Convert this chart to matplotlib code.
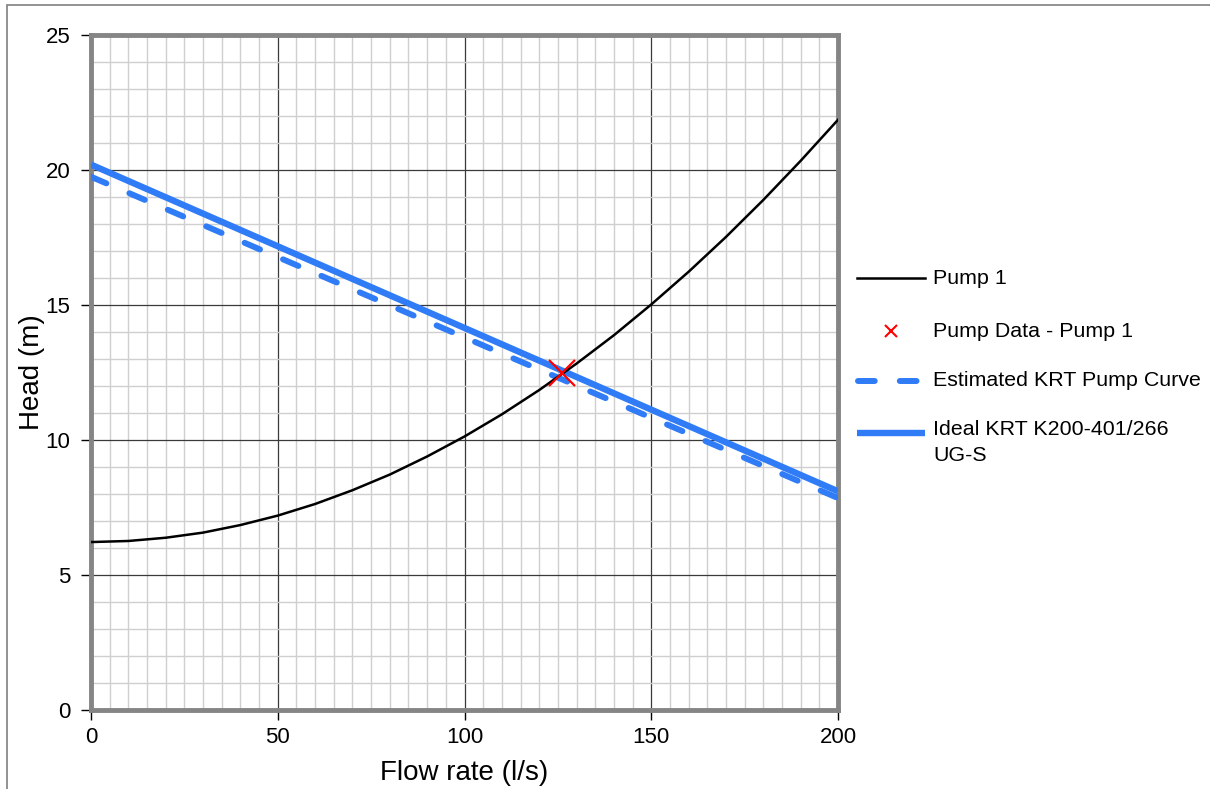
import matplotlib
matplotlib.use("Agg")
import matplotlib.pyplot as plt
from matplotlib.lines import Line2D
from matplotlib.patches import Rectangle
import numpy as np

plt.rcParams['font.family'] = ['Liberation Sans', 'DejaVu Sans']

# System curve (Pump 1)
sys_q = [0, 10, 20, 30, 40, 50, 60, 70, 80, 90, 100, 110, 120, 130, 140, 150, 160, 170, 180, 190, 200]
sys_h = [6.22, 6.26, 6.38, 6.57, 6.85, 7.20, 7.63, 8.14, 8.72, 9.39, 10.13, 10.95, 11.85, 12.83,
         13.88, 15.02, 16.23, 17.52, 18.89, 20.34, 21.86]

# Pump data point
data_q = [126]
data_h = [12.48]

# Estimated KRT pump curve
est_q = [0, 200]
est_h = [19.75, 7.85]

# Ideal KRT pump curve
ideal_q = [0, 200]
ideal_h = [20.2, 8.1]

labels = ["Pump 1", "Pump Data - Pump 1", "Estimated KRT Pump Curve", "Ideal KRT K200-401/266\nUG-S"]
xticks = [0, 50, 100, 150, 200]
yticks = [0, 5, 10, 15, 20, 25]

W, H = 1210, 789
fig = plt.figure(figsize=(W / 100, H / 100), dpi=100)
ax = fig.add_axes([91 / W, 1 - 710 / H, (838 - 91) / W, (710 - 35) / H])

blue = '#2f7cf6'
dash_pat = (2.8, 4.2)
ax.plot(sys_q, sys_h, color='black', lw=1.8, zorder=4)
ax.plot(ideal_q, ideal_h, color=blue, lw=4.6, solid_capstyle='butt', zorder=3)
ax.plot(est_q, est_h, color=blue, lw=4.3, dashes=dash_pat, dash_capstyle='round', zorder=3)
ax.plot(data_q, data_h, 'x', color='red', ms=19, mew=1.6, zorder=5)

ax.set_xlim(0, 200)
ax.set_ylim(0, 25)
ax.set_xticks(xticks)
ax.set_yticks(yticks)
ax.set_xticks(np.arange(0, 201, 5), minor=True)
ax.set_yticks(np.arange(0, 26, 1), minor=True)
ax.grid(which='minor', color='#cfcfcf', lw=1.0, zorder=0)
ax.grid(which='major', color='#3a3a3a', lw=0.9, zorder=1)
ax.set_axisbelow(True)
ax.tick_params(which='minor', length=0)
ax.tick_params(which='major', direction='out', length=7, width=1.0, color='black',
               labelsize=16)
ax.tick_params(axis='x', which='major', pad=5)
ax.tick_params(axis='y', which='major', pad=8)
for s in ax.spines.values():
    s.set_color('#858585')
    s.set_linewidth(3.5)

ax.set_xlabel('Flow rate (l/s)', fontsize=20, labelpad=9)
ax.set_ylabel('Head (m)', fontsize=20, labelpad=0)

# Manual legend in figure pixel coordinates
def fx(px):
    return px / W

def fy(py):
    return 1 - py / H

handles = [
    dict(color='black', lw=1.8),
    dict(ls='none', marker='x', color='red', ms=8, mew=1.5),
    dict(color=blue, lw=4.3, dashes=dash_pat, dash_capstyle='round'),
    dict(color=blue, lw=4.6, solid_capstyle='butt'),
]
rows = [278, 331, 381, 433]
for kw, lab, ry in zip(handles, labels, rows):
    if kw.get('ls') == 'none':
        fig.add_artist(Line2D([fx(891)], [fy(ry)], transform=fig.transFigure, **kw))
    elif 'dashes' in kw:
        fig.add_artist(Line2D([fx(858), fx(920)], [fy(ry), fy(ry)], transform=fig.transFigure, **kw))
    else:
        fig.add_artist(Line2D([fx(857), fx(925)], [fy(ry), fy(ry)], transform=fig.transFigure, **kw))
    if '\n' in lab:
        fig.text(fx(933), fy(ry - 13), lab, fontsize=15.4, va='top', ha='left', linespacing=1.45)
    else:
        fig.text(fx(933), fy(ry), lab, fontsize=15.4, va='center', ha='left')

fig.patches.append(Rectangle((7 / W, -0.1), 1.2, 1 - 5 / H + 0.1, transform=fig.transFigure,
                             fill=False, edgecolor='#7f7f7f', lw=1.2))

fig.savefig('out.png', dpi=100)
